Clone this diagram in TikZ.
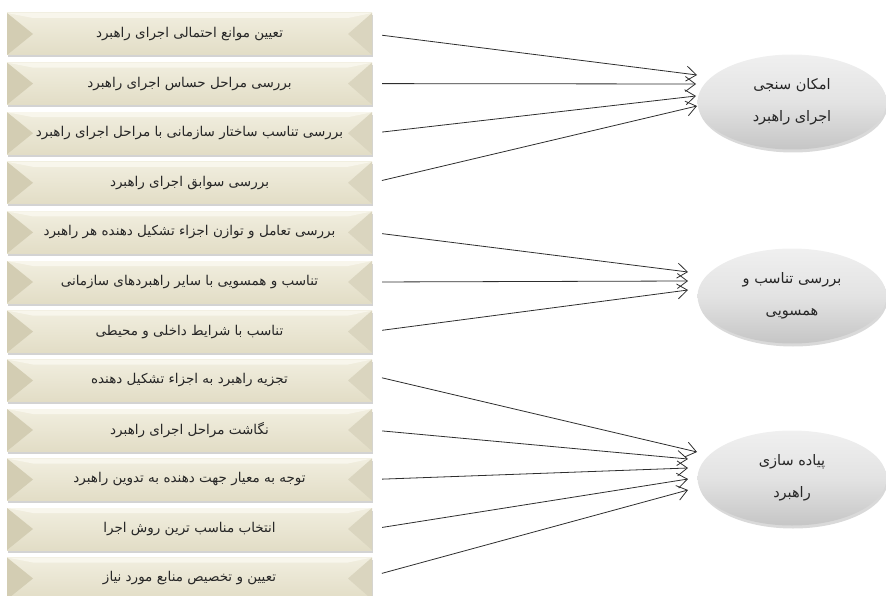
\documentclass[tikz,border=0pt]{standalone}
\usepackage{fontspec}
\newfontfamily\fa[Script=Arabic]{DejaVu Sans}
\TeXXeTstate=1
\usetikzlibrary{shapes.geometric,arrows.meta,shadows}
\definecolor{boxtop}{HTML}{F1EEDF}
\definecolor{boxbot}{HTML}{E2DDC6}
\definecolor{bevleft}{HTML}{D3CDB3}
\definecolor{bevright}{HTML}{DAD5BF}
\definecolor{bevtop}{HTML}{F8F6EC}
\definecolor{linecol}{HTML}{2E2E2E}
\tikzset{
  x=1pt, y=-1pt,
  stepbox/.style={rectangle, minimum width=365pt, minimum height=42pt, inner sep=0pt,
    top color=boxtop, bottom color=boxbot,
    drop shadow={opacity=0.35, shadow xshift=1pt, shadow yshift=-2.5pt, fill=gray},
    font=\fa\fontsize{13.5}{16}\selectfont, text=black!85,
    path picture={
      \fill[bevtop] (path picture bounding box.north west) -- (path picture bounding box.north east)
        -- ([xshift=-24pt,yshift=-5pt]path picture bounding box.north east)
        -- ([xshift=26pt,yshift=-5pt]path picture bounding box.north west) -- cycle;
      \fill[bevleft] (path picture bounding box.north west) -- ([xshift=26pt]path picture bounding box.west)
        -- (path picture bounding box.south west) -- cycle;
      \fill[bevright] (path picture bounding box.north east) -- ([xshift=-24pt]path picture bounding box.east)
        -- (path picture bounding box.south east) -- cycle;
    }},
  goal/.style={ellipse, minimum width=189pt, minimum height=95pt, inner sep=0pt,
    top color=gray!12, bottom color=gray!45, middle color=gray!22,
    drop shadow={opacity=0.3, shadow xshift=1pt, shadow yshift=-3pt},
    align=center, font=\fa\fontsize{14.5}{32}\selectfont, text=black!85},
  link/.style={draw=linecol, line width=0.8pt, shorten <=10pt,
    -{Straight Barb[length=10pt,width=15pt,line width=0.8pt]}}
}
\begin{document}
\begin{tikzpicture}
\useasboundingbox (0,0) rectangle (886,596);
\clip (0,0) rectangle (886,596);
\node[stepbox] (b1) at (189.5,34.0) {\beginR تعیین موانع احتمالی اجرای راهبرد\endR};
\node[stepbox] (b2) at (189.5,83.6) {\beginR بررسی مراحل حساس اجرای راهبرد\endR};
\node[stepbox] (b3) at (189.5,133.2) {\beginR بررسی تناسب ساختار سازمانی با مراحل اجرای راهبرد\endR};
\node[stepbox] (b4) at (189.5,182.8) {\beginR بررسی سوابق اجرای راهبرد\endR};
\node[stepbox] (b5) at (189.5,232.4) {\beginR بررسی تعامل و توازن اجزاء تشکیل دهنده هر راهبرد\endR};
\node[stepbox] (b6) at (189.5,282.0) {\beginR تناسب و همسویی با سایر راهبردهای سازمانی\endR};
\node[stepbox] (b7) at (189.5,331.6) {\beginR تناسب با شرایط داخلی و محیطی\endR};
\node[stepbox] (b8) at (189.5,380.5) {\beginR تجزیه راهبرد به اجزاء تشکیل دهنده\endR};
\node[stepbox] (b9) at (189.5,430.0) {\beginR نگاشت مراحل اجرای راهبرد\endR};
\node[stepbox] (b10) at (189.5,479.5) {\beginR توجه به معیار جهت دهنده به تدوین راهبرد\endR};
\node[stepbox] (b11) at (189.5,529.0) {\beginR انتخاب مناسب ترین روش اجرا\endR};
\node[stepbox] (b12) at (189.5,578.5) {\beginR تعیین و تخصیص منابع مورد نیاز\endR};

\node[goal] (g1) at (792,102) {\beginR امکان سنجی\endR\\\beginR اجرای راهبرد\endR};
\node[goal] (g2) at (792,296) {\beginR بررسی تناسب و\endR\\\beginR همسویی\endR};
\node[goal] (g3) at (792,478) {\beginR پیاده سازی\endR\\\beginR راهبرد\endR};

\coordinate (t1) at (697,75);
\coordinate (t2) at (696,84);
\coordinate (t3) at (696,96);
\coordinate (t4) at (697,106);
\coordinate (t5) at (688,272);
\coordinate (t6) at (688,281);
\coordinate (t7) at (688,290);
\coordinate (t8) at (697,452);
\coordinate (t9) at (688,459);
\coordinate (t10) at (688,468);
\coordinate (t11) at (688,479);
\coordinate (t12) at (688,490);

\draw[link] (b1.east) -- (t1);
\draw[link] (b2.east) -- (t2);
\draw[link] (b3.east) -- (t3);
\draw[link] (b4.east) -- (t4);
\draw[link] (b5.east) -- (t5);
\draw[link] (b6.east) -- (t6);
\draw[link] (b7.east) -- (t7);
\draw[link] ([yshift=5pt]b8.east) -- (t8);
\draw[link] (b9.east) -- (t9);
\draw[link] (b10.east) -- (t10);
\draw[link] (b11.east) -- (t11);
\draw[link] ([yshift=2.5pt]b12.east) -- (t12);
\end{tikzpicture}
\end{document}
